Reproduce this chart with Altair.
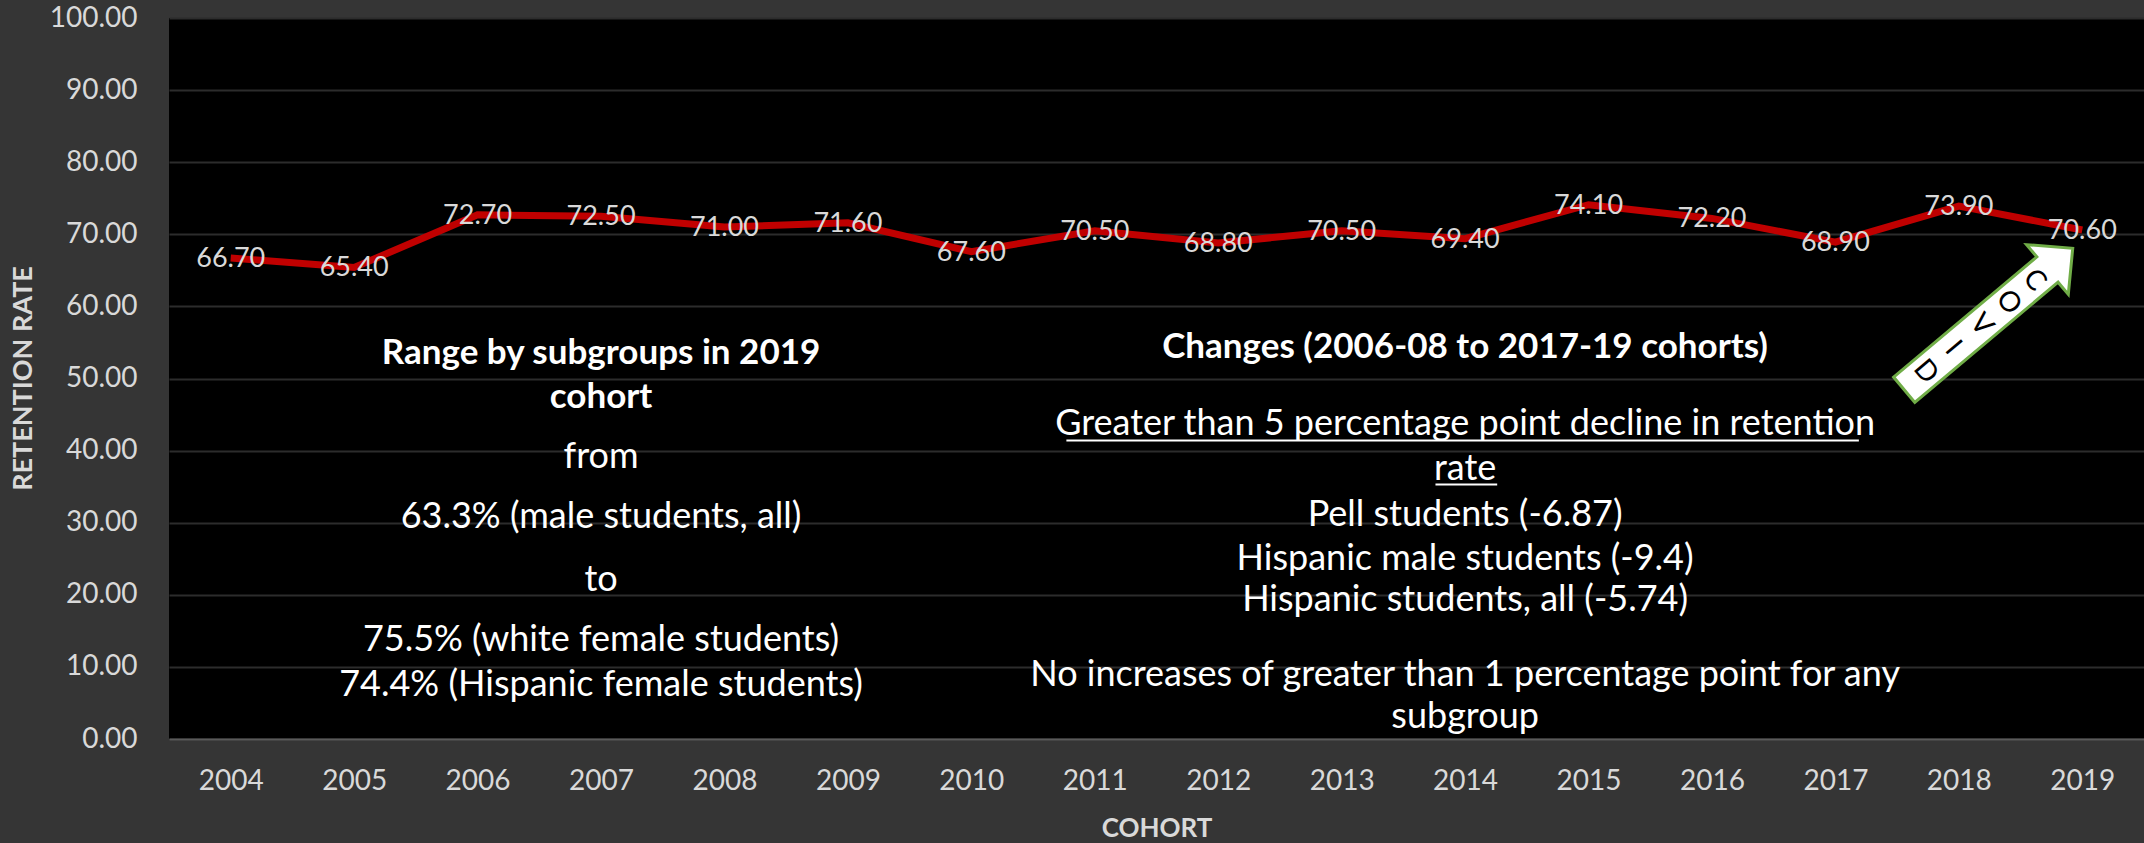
import altair as alt
import pandas as pd

# ---------------- data ----------------
years = list(range(2004, 2020))
retention = [66.7, 65.4, 72.7, 72.5, 71.0, 71.6, 67.6, 70.5,
             68.8, 70.5, 69.4, 74.1, 72.2, 68.9, 73.9, 70.6]
y_ticks = [0, 10, 20, 30, 40, 50, 60, 70, 80, 90, 100]

left_bold_lines = ["Range by subgroups in 2019", "cohort"]
left_bold_y = [53.6, 47.5]
left_lines = ["from", "63.3% (male students, all)", "to",
              "75.5% (white female students)", "74.4% (Hispanic female students)"]
left_y = [39.1, 30.8, 22.1, 13.7, 7.5]
left_x = 2007.0

right_bold_lines = ["Changes (2006-08 to 2017-19 cohorts)"]
right_bold_y = [54.4]
right_lines = ["Greater than 5 percentage point decline in retention", "rate",
               "Pell students (-6.87)", "Hispanic male students (-9.4)",
               "Hispanic students, all (-5.74)",
               "No increases of greater than 1 percentage point for any", "subgroup"]
right_y = [43.7, 37.5, 31.1, 25.0, 19.3, 8.9, 3.1]
right_x = 2014.0

# underline segments (data units)
ul_x1 = [2010.77, 2013.76]
ul_x2 = [2017.19, 2014.26]
ul_y = [41.4, 35.3]

# COVID arrow annotation
arrow_x = [2018.24]
arrow_y = [58.25]
covid_letters = ["C", "O", "V", "I", "D"]
covid_x = [2018.61, 2018.40, 2018.18, 2017.95, 2017.73]
covid_y = [63.6, 60.5, 57.4, 54.2, 50.9]

FONT = "Lato"
LABEL = "#d9d9d9"

df = pd.DataFrame({"year": years, "rate": retention})
df_lb = pd.DataFrame({"t": left_bold_lines, "y": left_bold_y, "x": left_x})
df_l = pd.DataFrame({"t": left_lines, "y": left_y, "x": left_x})
df_rb = pd.DataFrame({"t": right_bold_lines, "y": right_bold_y, "x": right_x})
df_r = pd.DataFrame({"t": right_lines, "y": right_y, "x": right_x})
df_ul = pd.DataFrame({"x": ul_x1, "x2": ul_x2, "y": ul_y})
df_arrow = pd.DataFrame({"x": arrow_x, "y": arrow_y})
df_covid = pd.DataFrame({"t": covid_letters, "x": covid_x, "y": covid_y})

xscale = alt.Scale(domain=[2003.5, 2019.5], nice=False, zero=False)
yscale = alt.Scale(domain=[0, 100], nice=False)

x_axis = alt.Axis(values=years, format="d", grid=False, ticks=False, tickSize=0,
                  labelFont=FONT, labelFontSize=28, labelColor=LABEL,
                  labelBaseline="middle", labelPadding=42,
                  domainColor="#5a5a5a", domainWidth=2,
                  title="COHORT", titleFont=FONT, titleFontSize=26,
                  titleFontWeight="bold", titleColor=LABEL,
                  titleY=89, titleBaseline="middle")
y_axis = alt.Axis(values=y_ticks, format=".2f", grid=True, gridColor="#2c2c2c",
                  gridWidth=2, ticks=False, tickSize=0, domain=False,
                  labelFont=FONT, labelFontSize=28, labelColor=LABEL,
                  labelPadding=32,
                  title="RETENTION RATE", titleFont=FONT, titleFontSize=27,
                  titleFontWeight="bold", titleColor=LABEL,
                  titleX=-146, titleY=360, titleAngle=270, titleBaseline="middle",
                  titleAlign="center")

base = alt.Chart(df)

line = base.mark_line(color="#c00000", strokeWidth=7).encode(
    x=alt.X("year:Q", scale=xscale, axis=x_axis),
    y=alt.Y("rate:Q", scale=yscale, axis=y_axis),
)

labels = base.mark_text(font=FONT, fontSize=27, color=LABEL, baseline="middle",
                        align="center", dy=1).encode(
    x=alt.X("year:Q", scale=xscale),
    y=alt.Y("rate:Q", scale=yscale),
    text=alt.Text("rate:Q", format=".2f"),
)

def txt(d, bold, size):
    return alt.Chart(d).mark_text(font=FONT, fontSize=size, color="white",
                                  fontWeight="bold" if bold else "normal",
                                  align="center", baseline="middle").encode(
        x=alt.X("x:Q", scale=xscale), y=alt.Y("y:Q", scale=yscale), text="t:N")

underline = alt.Chart(df_ul).mark_rule(color="white", strokeWidth=2).encode(
    x=alt.X("x:Q", scale=xscale), x2="x2:Q", y=alt.Y("y:Q", scale=yscale))

ARROW_PATH = ("M0,-1 L0.295,-0.7 L0.15,-0.7 L0.15,1 L-0.15,1 "
              "L-0.15,-0.7 L-0.295,-0.7 Z")
arrow = alt.Chart(df_arrow).mark_point(shape=ARROW_PATH, size=48400, angle=50,
                                       filled=True, fill="white", stroke="#70ad47",
                                       strokeWidth=3, opacity=1).encode(
    x=alt.X("x:Q", scale=xscale), y=alt.Y("y:Q", scale=yscale))

covid = alt.Chart(df_covid).mark_text(font=FONT, fontSize=28, color="black",
                                      angle=50, align="center",
                                      baseline="middle").encode(
    x=alt.X("x:Q", scale=xscale), y=alt.Y("y:Q", scale=yscale), text="t:N")

chart = alt.layer(
    line, labels, txt(df_lb, True, 35), txt(df_l, False, 36), txt(df_rb, True, 35),
    txt(df_r, False, 36), underline, arrow, covid
).properties(
    width=1975, height=721,
    autosize=alt.AutoSizeParams(type="none"),
    padding={"left": 169, "top": 18, "right": 0, "bottom": 104},
    background="#353535",
).configure_view(fill="#000000", stroke=None)

chart.save("out.html", embed_options={"renderer": "svg", "actions": False})
